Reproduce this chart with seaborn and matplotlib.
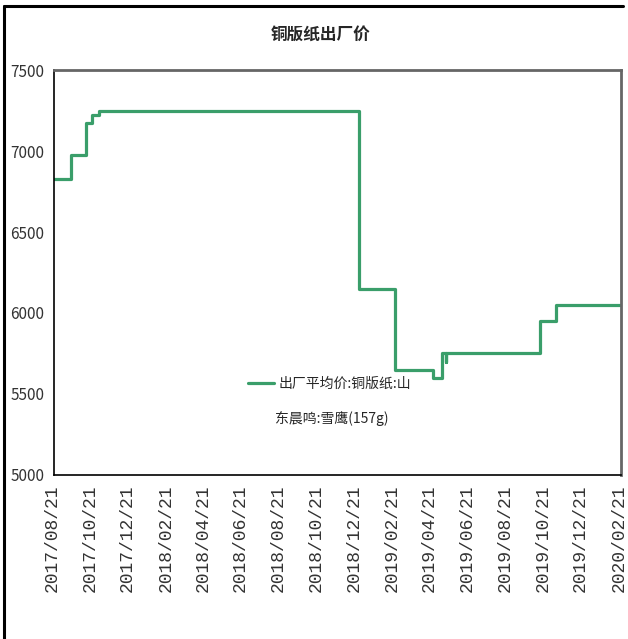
import pandas as pd
import matplotlib.pyplot as plt
import matplotlib.dates as mdates
from matplotlib.lines import Line2D
from matplotlib.transforms import ScaledTranslation
import seaborn as sns

# step change points
dates = ['2017-08-21', '2017-09-18', '2017-10-11', '2017-10-22', '2017-11-01',
         '2018-12-25', '2019-02-21', '2019-04-24', '2019-05-09', '2019-05-14',
         '2019-05-15', '2019-10-14', '2019-11-08', '2020-02-21']
prices = [6830, 6975, 7175, 7225, 7250,
          6150, 5650, 5600, 5750, 5700,
          5750, 5950, 6050, 6050]

tick_dates = ['2017-08-21', '2017-10-21', '2017-12-21', '2018-02-21', '2018-04-21',
              '2018-06-21', '2018-08-21', '2018-10-21', '2018-12-21', '2019-02-21',
              '2019-04-21', '2019-06-21', '2019-08-21', '2019-10-21', '2019-12-21',
              '2020-02-21']
y_ticks = [5000, 5500, 6000, 6500, 7000, 7500]

title = '铜版纸出厂价'
label_1 = '出厂平均价:铜版纸:山'
label_2 = '东晨鸣:雪鹰(157g)'

df = pd.DataFrame({'date': pd.to_datetime(dates), 'price': prices})

sns.set_style('white')
plt.rcParams['font.family'] = ['Noto Sans CJK SC', 'DejaVu Sans']

fig = plt.figure(figsize=(6.28, 6.39), dpi=100)
ax = fig.add_axes([0.086, 0.257, 0.903, 0.633])

sns.lineplot(data=df, x='date', y='price', ax=ax, color='#3A9E6A', linewidth=2.3,
             drawstyle='steps-post', label=label_1)

ax.set_xlim(pd.Timestamp(tick_dates[0]), pd.Timestamp(tick_dates[-1]))
ax.set_ylim(5000, 7500)
ax.set_xticks(pd.to_datetime(tick_dates))
ax.xaxis.set_major_formatter(mdates.DateFormatter('%Y/%m/%d'))
ax.set_yticks(y_ticks)
ax.set_xlabel('')
ax.set_ylabel('')
ax.tick_params(axis='x', rotation=90, labelsize=13, direction='in', length=5,
               width=1, colors='black', pad=7)
ax.tick_params(axis='y', labelsize=11, direction='in', length=4, width=1,
               colors='black', pad=7)
shift = ScaledTranslation(-2 / 100, 0, fig.dpi_scale_trans)
for lab in ax.get_xticklabels():
    lab.set_family(['Liberation Mono', 'DejaVu Sans Mono'])
    lab.set_color('#333333')
    lab.set_transform(lab.get_transform() + shift)
for lab in ax.get_yticklabels():
    lab.set_color('#333333')

for side in ['left', 'bottom']:
    ax.spines[side].set_color('black')
    ax.spines[side].set_linewidth(1.2)
for side in ['top', 'right']:
    ax.spines[side].set_color('#666666')
    ax.spines[side].set_linewidth(2)

fig.text(0.511, 0.945, title, ha='center', va='center', fontsize=12, fontweight='bold')

leg = ax.legend(loc='upper left', bbox_to_anchor=(0.329, 0.26), frameon=False,
                fontsize=10, handlelength=1.9, handletextpad=0.3, borderpad=0)
ax.text(0.39, 0.14, label_2, transform=ax.transAxes, fontsize=10, va='center')

# outer frame of the picture
fig.add_artist(Line2D([0.007, 0.992], [0.991, 0.991], color='black', linewidth=2.2,
                      transform=fig.transFigure))
fig.add_artist(Line2D([0.007, 0.007], [0.0, 0.991], color='black', linewidth=2.2,
                      transform=fig.transFigure))

fig.savefig('out.png', dpi=100)
